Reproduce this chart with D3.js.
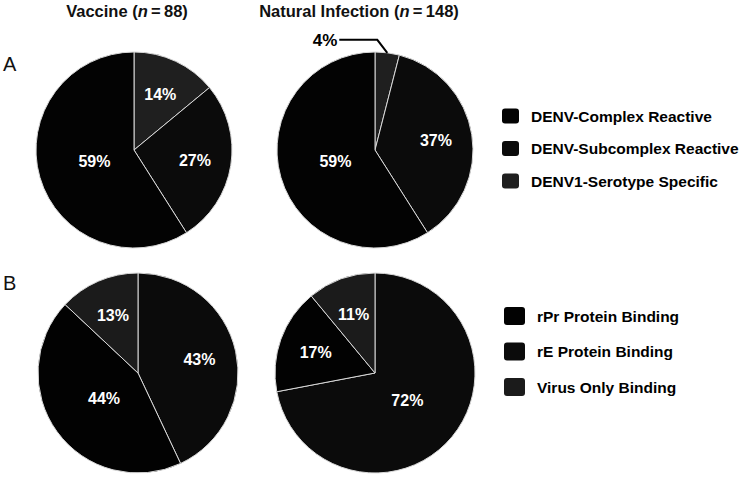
<!DOCTYPE html>
<html>
<head>
<meta charset="utf-8">
<script src="https://cdn.jsdelivr.net/npm/d3@7"></script>
<style>
  html, body { margin: 0; padding: 0; background: #fff; }
  svg { display: block; font-family: "Liberation Sans", Arial, sans-serif; }
</style>
</head>
<body>
<svg id="chart" width="743" height="477"></svg>
<script>
// ---- data ----
const groupTitles = ["Vaccine", "Natural Infection"];
const groupN = [88, 148];
const panelLetters = ["A", "B"];

const specificityCategories = ["DENV-Complex Reactive", "DENV-Subcomplex Reactive", "DENV1-Serotype Specific"];
const specificityVaccine = [59, 27, 14];
const specificityNatural = [59, 37, 4];

const bindingCategories = ["rPr Protein Binding", "rE Protein Binding", "Virus Only Binding"];
const bindingVaccine = [44, 43, 13];
const bindingNatural = [17, 72, 11];

// ---- layout / style config ----
const specificityColors = ["#030303", "#0b0b0b", "#1f1f1f"];
const bindingColors = ["#020202", "#0b0b0b", "#1b1b1b"];
const specificityDrawOrder = [2, 1, 0]; // clockwise from 12 o'clock
const bindingDrawOrder = [1, 0, 2];

const svg = d3.select("#chart");

// titles
const titleX = [127, 359];
groupTitles.forEach((t, i) => {
  const txt = svg.append("text")
    .attr("x", titleX[i]).attr("y", 17)
    .attr("text-anchor", "middle")
    .attr("font-size", 16.5).attr("font-weight", "bold").attr("fill", "#111");
  txt.append("tspan").text(t + " (");
  txt.append("tspan").attr("font-style", "italic").text("n");
  txt.append("tspan").text("\u2009=\u2009" + groupN[i] + ")");
});

// panel letters
svg.append("text").attr("x", 3).attr("y", 71).attr("font-size", 20).attr("fill", "#111").text(panelLetters[0]);
svg.append("text").attr("x", 3).attr("y", 290).attr("font-size", 20).attr("fill", "#111").text(panelLetters[1]);

function drawPie(cx, cy, R, values, categories, colors, order) {
  const color = d3.scaleOrdinal().domain(categories).range(colors);
  const data = order.map(i => ({ cat: categories[i], value: values[i] }));
  const pie = d3.pie().sort(null).value(d => d.value);
  const arcs = pie(data);
  const arc = d3.arc().innerRadius(0).outerRadius(R);
  const g = svg.append("g").attr("transform", `translate(${cx},${cy})`);
  g.selectAll("path").data(arcs).join("path")
    .attr("d", arc)
    .attr("fill", d => color(d.data.cat))
    .attr("stroke", "#d8d8d8")
    .attr("stroke-width", 1);

  arcs.forEach(d => {
    if (d.data.value < 8) {
      // outside label with leader line
      const rim = d3.arc().innerRadius(R).outerRadius(R).centroid(d);
      const elbow = [rim[0] - 10, rim[1] - 13];
      const end = [elbow[0] - 38, elbow[1]];
      g.append("path")
        .attr("d", d3.line()([rim, elbow, end]))
        .attr("fill", "none").attr("stroke", "#000").attr("stroke-width", 2);
      g.append("text")
        .attr("x", end[0] - 2).attr("y", end[1] + 6)
        .attr("text-anchor", "end")
        .attr("font-size", 17).attr("font-weight", "bold").attr("fill", "#000")
        .text(d.data.value + "%");
    } else {
      const lr = d.data.value >= 44 ? R * 0.42 : R * 0.63;
      const c = d3.arc().innerRadius(lr).outerRadius(lr).centroid(d);
      g.append("text")
        .attr("x", c[0]).attr("y", c[1] + 6)
        .attr("text-anchor", "middle")
        .attr("font-size", 16).attr("font-weight", "bold").attr("fill", "#fff")
        .text(d.data.value + "%");
    }
  });
}

drawPie(134, 150, 98, specificityVaccine, specificityCategories, specificityColors, specificityDrawOrder);
drawPie(375, 150, 98, specificityNatural, specificityCategories, specificityColors, specificityDrawOrder);
drawPie(138, 373, 100, bindingVaccine, bindingCategories, bindingColors, bindingDrawOrder);
drawPie(375, 373, 100, bindingNatural, bindingCategories, bindingColors, bindingDrawOrder);

// legends
function drawLegend(x, rowsY, categories, colors, sw, sh, textX) {
  const color = d3.scaleOrdinal().domain(categories).range(colors);
  const y = d3.scalePoint().domain(categories).range(rowsY);
  const g = svg.append("g");
  categories.forEach(c => {
    g.append("rect")
      .attr("x", x).attr("y", y(c) - sh / 2)
      .attr("width", sw).attr("height", sh)
      .attr("rx", 3).attr("fill", color(c));
    g.append("text")
      .attr("x", textX).attr("y", y(c) + 5.5)
      .attr("font-size", 15.5).attr("font-weight", "bold").attr("fill", "#000")
      .text(c);
  });
}
drawLegend(502, [116, 181], specificityCategories, specificityColors, 17, 15, 531);
drawLegend(504, [316, 387], bindingCategories, bindingColors, 21, 18, 537);
</script>
</body>
</html>
